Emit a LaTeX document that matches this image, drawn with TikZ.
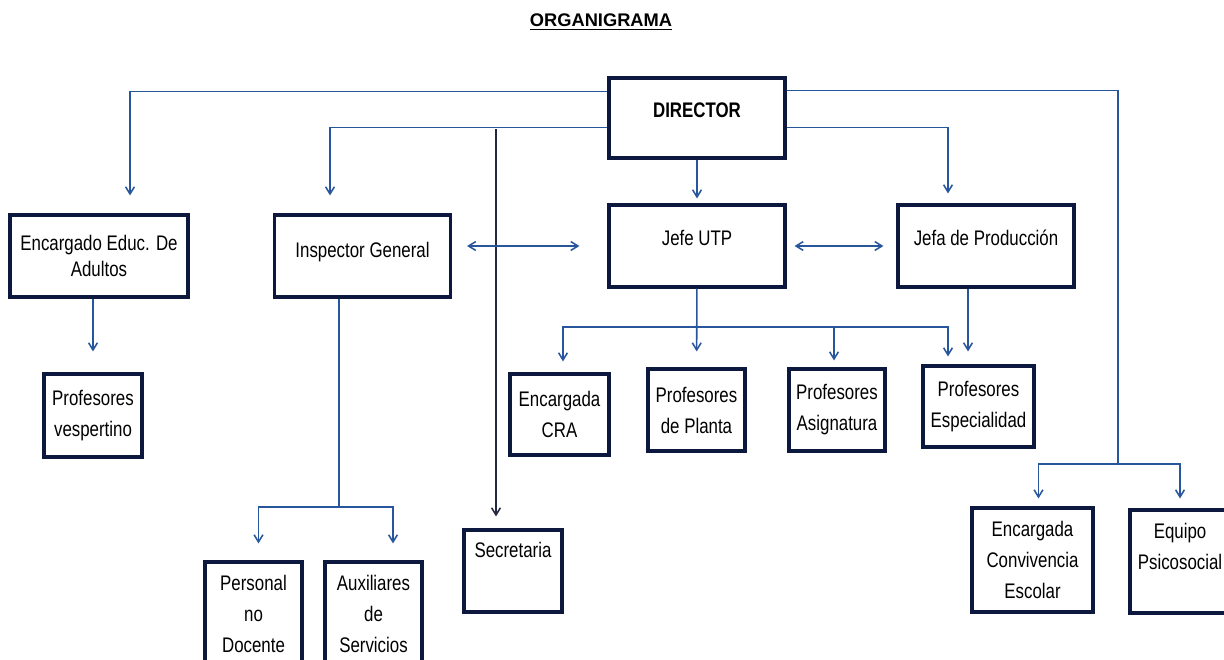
\documentclass[tikz,border=0pt]{standalone}
\usepackage{fontspec}
\setmainfont{Liberation Sans}[FakeStretch=0.8]
\newfontfamily\titlefont{Liberation Sans}
\usetikzlibrary{arrows.meta, positioning, calc}
\definecolor{boxnavy}{RGB}{12,24,62}
\definecolor{linkblue}{RGB}{40,86,156}
\definecolor{linkdark}{RGB}{34,40,64}
\tikzset{
    post/.style={rectangle, draw=boxnavy, line width=2.2pt, fill=white, align=center, inner sep=1mm, font=\fontsize{15}{22}\selectfont},
    headbox/.style={post, minimum width=44mm, minimum height=20.5mm},
    staffbox/.style={post, minimum width=24.5mm, minimum height=20.5mm},
    tallbox/.style={post, minimum width=24.25mm, minimum height=26mm},
    lift/.style={text height=3.8mm, text depth=#1},
    wire/.style={linkblue, line width=1.1pt},
    link/.style={wire, -{Straight Barb[length=1.8mm, width=2.2mm]}},
    twoway/.style={wire, {Straight Barb[length=1.8mm, width=2.2mm]}-{Straight Barb[length=1.8mm, width=2.2mm]}},
}

\begin{document}
\begin{tikzpicture}[x=0.25mm, y=-0.25mm]
    \useasboundingbox (0,0) rectangle (1224,659);
    \node[font=\titlefont\bfseries\fontsize{13}{15}\selectfont] (title) at (601,22) {\underline{ORGANIGRAMA}};

    \node[headbox, minimum height=20mm, lift=4mm] (director) at (697,118) {\textbf{DIRECTOR}};
    \node[headbox, minimum width=44.5mm] (adultos) at (99,256) {Encargado Educ. De\\[-1.25mm]Adultos};
    \node[headbox, lift=3mm] (inspector) at (362.5,256) {Inspector General};
    \node[headbox, lift=4mm] (utp) at (697,246) {Jefe UTP};
    \node[headbox, lift=4mm] (produccion) at (986,246) {Jefa de Producción};

    \node[staffbox, minimum height=20.75mm] (vespertino) at (93,415.5) {Profesores\\vespertino};
    \node[staffbox, minimum width=24.75mm, minimum height=20.25mm] (cra) at (559.5,414.5) {Encargada\\CRA};
    \node[staffbox, minimum width=24.25mm] (planta) at (696.5,410) {Profesores\\de Planta};
    \node[staffbox, minimum width=24mm] (asignatura) at (837,410) {Profesores\\Asignatura};
    \node[staffbox, minimum width=27.75mm, minimum height=20.25mm] (especialidad) at (978.5,406.5) {Profesores\\Especialidad};
    \node[staffbox, lift=10.5mm] (secretaria) at (513,571) {Secretaria};

    \node[tallbox] (personal) at (253.5,614) {Personal\\no\\Docente};
    \node[tallbox] (auxiliares) at (373.5,614) {Auxiliares\\de\\Servicios};
    \node[tallbox, minimum width=30.25mm] (convivencia) at (1032.5,560) {Encargada\\Convivencia\\Escolar};
    \node[tallbox, minimum width=25mm, minimum height=25.75mm] (psicosocial) at (1180,561.5) {Equipo\\Psicosocial\\\mbox{}};

    \coordinate (sec) at (496,129);
    \coordinate (psico) at (1118,464);
    \coordinate (staff) at (339,507);
    \coordinate (teach) at (694,327);

    \draw[link, shorten >=4.5mm] ([yshift=-3.75mm]director.north west) -| ([xshift=7.75mm]adultos.north);
    \draw[link, shorten >=4.5mm] ([yshift=-12.75mm]director.north west) -| ([xshift=-8.125mm]inspector.north);
    \draw[link, linkdark, shorten >=3mm] (sec) -- (sec |- secretaria.north);
    \draw[link, shorten >=1.25mm] (director) -- (utp);
    \draw[link, shorten >=2.5mm] ([yshift=-12.75mm]director.north east) -| ([xshift=-9.5mm]produccion.north);
    \draw[wire] ([yshift=-3.5mm]director.north east) -| (psico);
    \draw[link, shorten >=2mm] (psico) -| ([xshift=1.5mm]convivencia.north);
    \draw[link, shorten >=2.5mm] (psico) -| (psicosocial.north);

    \draw[link, shorten >=5.25mm] (vespertino.north |- adultos.south) -- (vespertino.north);
    \draw[wire] (staff |- inspector.south) -- (staff);
    \draw[link, shorten >=4.25mm] (staff) -| ([xshift=1.25mm]personal.north);
    \draw[link, shorten >=4.25mm] (staff) -| ([xshift=4.875mm]auxiliares.north);

    \draw[link, shorten >=4mm] (utp) -- (planta);
    \draw[link, shorten >=2.75mm] (teach) -| ([xshift=0.875mm]cra.north);
    \draw[link, shorten >=1.75mm] (teach) -| ([xshift=-0.75mm]asignatura.north);
    \draw[link, shorten >=2mm] (teach) -| ([xshift=-7.625mm]especialidad.north);
    \draw[link, shorten >=3.25mm] ([xshift=-2.625mm]especialidad.north |- produccion.south) -- ([xshift=-2.625mm]especialidad.north);

    \draw[twoway] ([xshift=3.75mm]inspector.east |- utp.west) -- ([xshift=-7mm]utp.west);
    \draw[twoway] ([xshift=2mm]utp.east) -- ([xshift=-3.25mm]produccion.west);
\end{tikzpicture}
\end{document}
